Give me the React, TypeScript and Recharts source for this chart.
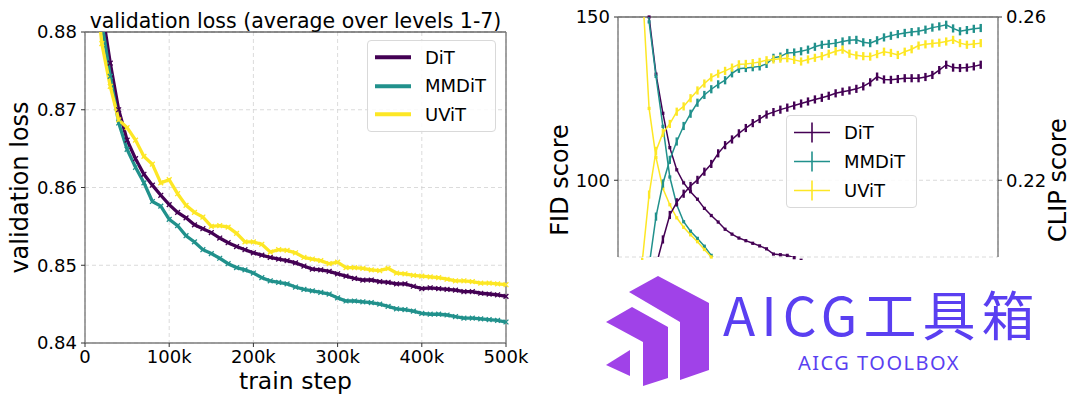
import { LineChart, Line, XAxis, YAxis, CartesianGrid, ReferenceLine, ErrorBar } from 'recharts'

const FONT = '"DejaVu Sans", sans-serif'
const GRID = '#d2d2d2'
const SPINE = '#7c7c7c'

const SERIES = ['DiT', 'MMDiT', 'UViT']
const COLORS = ['#440154', '#21918c', '#fde725']

// train steps, in thousands
const STEP_K = [
  10, 20, 30, 40, 50, 60, 70, 80, 90, 100,
  110, 120, 130, 140, 150, 160, 170, 180, 190, 200,
  210, 220, 230, 240, 250, 260, 270, 280, 290, 300,
  310, 320, 330, 340, 350, 360, 370, 380, 390, 400,
  410, 420, 430, 440, 450, 460, 470, 480, 490, 500,
]

// left panel: validation loss
const DIT_LOSS = [
  0.9, 0.883, 0.876, 0.87, 0.8661, 0.8637, 0.8617, 0.8603, 0.859, 0.8578,
  0.8568, 0.8561, 0.8552, 0.8547, 0.8542, 0.8535, 0.8529, 0.8524, 0.852, 0.8516,
  0.8513, 0.851, 0.8508, 0.8506, 0.8503, 0.8499, 0.8495, 0.8494, 0.8492, 0.8489,
  0.8486, 0.8483, 0.8481, 0.8481, 0.8479, 0.8478, 0.8476, 0.8476, 0.8473, 0.847,
  0.8471, 0.847, 0.8469, 0.8468, 0.8466, 0.8466, 0.8464, 0.8463, 0.8462, 0.846,
]
const MMDIT_LOSS = [
  0.898, 0.8812, 0.8743, 0.8683, 0.8649, 0.8626, 0.8606, 0.8582, 0.8576, 0.8559,
  0.8551, 0.8538, 0.853, 0.852, 0.8515, 0.8509, 0.8502, 0.8497, 0.8494, 0.849,
  0.8484, 0.848, 0.8478, 0.8476, 0.8472, 0.8469, 0.8467, 0.8465, 0.8463, 0.8458,
  0.8454, 0.8454, 0.8453, 0.8452, 0.845, 0.8447, 0.8444, 0.8443, 0.8441, 0.8438,
  0.8437, 0.8437, 0.8436, 0.8434, 0.8432, 0.8432, 0.8431, 0.843, 0.8429, 0.8427,
]
const UVIT_LOSS = [
  0.889, 0.8785, 0.873, 0.8687, 0.8677, 0.8661, 0.864, 0.863, 0.8606, 0.861,
  0.8592, 0.8577, 0.8568, 0.8562, 0.855, 0.8551, 0.8549, 0.8541, 0.853, 0.853,
  0.8527, 0.8517, 0.852, 0.8519, 0.8516, 0.851, 0.8508, 0.8506, 0.8502, 0.8504,
  0.8497, 0.8497, 0.8496, 0.8494, 0.8493, 0.8496, 0.849, 0.8489, 0.8487, 0.8486,
  0.8485, 0.8484, 0.8482, 0.848, 0.848, 0.8479, 0.8477, 0.8477, 0.8476, 0.8475,
]
const LOSS_X_TICKS = [0, 100000, 200000, 300000, 400000, 500000]
const LOSS_Y_TICKS = [0.84, 0.85, 0.86, 0.87, 0.88]

// right panel: FID (left axis) and CLIP (right axis); null = not plotted
const DIT_FID = [
  175, 150, 132.5, 120.5, 110, 103.2, 99.2, 96.5, 94.2, 91.4,
  89.2, 87.2, 85, 83.5, 82.3, 81.5, 80.7, 79.9, 79, 77.4,
  77.2, 77, 76.3, 75.5, null, null, null, null, null, null,
  null, null, null, null, null, null, null, null, null, null,
  null, null, null, null, null, null, null, null, null, null,
]
const MMDIT_FID = [
  185, 148.5, 131.8, 116.5, 101, 92.5, 87.3, 84.4, 82.2, 79.8,
  77, 74.5, null, null, null, null, null, null, null, null,
  null, null, null, null, null, null, null, null, null, null,
  null, null, null, null, null, null, null, null, null, null,
  null, null, null, null, null, null, null, null, null, null,
]
const UVIT_FID = [
  160, 122, 107, 97.5, 92.5, 88.5, 85.6, 83.3, 81.2, 78.8,
  76.5, 74, null, null, null, null, null, null, null, null,
  null, null, null, null, null, null, null, null, null, null,
  null, null, null, null, null, null, null, null, null, null,
  null, null, null, null, null, null, null, null, null, null,
]
const DIT_CLIP = [
  null, null, 0.199, 0.2055, 0.2115, 0.2146, 0.2167, 0.2186, 0.2201, 0.2221,
  0.224, 0.2266, 0.2286, 0.23, 0.2315, 0.2328, 0.234, 0.235, 0.2361, 0.2367,
  0.2373, 0.2378, 0.2383, 0.2388, 0.2393, 0.2398, 0.2402, 0.2407, 0.2413, 0.2417,
  0.242, 0.2424, 0.243, 0.244, 0.2454, 0.2447, 0.2446, 0.2448, 0.245, 0.245,
  0.245, 0.2453, 0.2458, 0.247, 0.2483, 0.2476, 0.2475, 0.2476, 0.2479, 0.2483,
]
const MMDIT_CLIP = [
  null, 0.199, 0.2111, 0.2192, 0.225, 0.2295, 0.2333, 0.2363, 0.239, 0.2409,
  0.2423, 0.2435, 0.2445, 0.2462, 0.2473, 0.2475, 0.2477, 0.2479, 0.2485, 0.25,
  0.2503, 0.2512, 0.2513, 0.2516, 0.252, 0.2527, 0.2532, 0.2534, 0.2536, 0.254,
  0.2543, 0.2544, 0.2538, 0.2536, 0.2543, 0.255, 0.2554, 0.2558, 0.2561, 0.2563,
  0.2565, 0.2569, 0.2574, 0.2577, 0.2581, 0.2572, 0.2565, 0.2568, 0.2571, 0.2573,
]
const UVIT_CLIP = [
  0.2, 0.2165, 0.2272, 0.2316, 0.2338, 0.2368, 0.2381, 0.2401, 0.242, 0.2437,
  0.2452, 0.2461, 0.2468, 0.2476, 0.2484, 0.2485, 0.2487, 0.249, 0.2494, 0.2496,
  0.2498, 0.2499, 0.2495, 0.2491, 0.2496, 0.25, 0.2504, 0.251, 0.2516, 0.252,
  0.251, 0.2506, 0.2504, 0.2503, 0.2509, 0.2515, 0.2512, 0.2507, 0.2515, 0.2521,
  0.253, 0.2533, 0.2535, 0.2537, 0.254, 0.2544, 0.2536, 0.2532, 0.2534, 0.2536,
]
const FID_ERR = 0.5
const CLIP_ERR = 0.001
const SCORE_X_TICKS = [0, 100000, 200000, 300000, 400000, 500000]
const FID_TICKS = [100, 150]
const CLIP_TICKS = [0.22, 0.26]

const lossData = STEP_K.map((k, i) => ({
  step: k * 1000,
  dit: DIT_LOSS[i],
  mmdit: MMDIT_LOSS[i],
  uvit: UVIT_LOSS[i],
}))

const withErr = (v: number | null, err: number) => (v == null ? null : err)

const scoreData = STEP_K.map((k, i) => ({
  step: k * 1000,
  ditFid: DIT_FID[i],
  mmditFid: MMDIT_FID[i],
  uvitFid: UVIT_FID[i],
  ditClip: DIT_CLIP[i],
  mmditClip: MMDIT_CLIP[i],
  uvitClip: UVIT_CLIP[i],
  ditFidErr: withErr(DIT_FID[i], FID_ERR),
  mmditFidErr: withErr(MMDIT_FID[i], FID_ERR),
  uvitFidErr: withErr(UVIT_FID[i], FID_ERR),
  ditClipErr: withErr(DIT_CLIP[i], CLIP_ERR),
  mmditClipErr: withErr(MMDIT_CLIP[i], CLIP_ERR),
  uvitClipErr: withErr(UVIT_CLIP[i], CLIP_ERR),
}))

const fmtK = (v: number) => (v === 0 ? '0' : `${v / 1000}k`)
const tickStyle = { fill: '#000', fontSize: 18, fontFamily: FONT }

function crossDot(color: string) {
  return (p: any) => {
    const { cx, cy, index } = p
    if (cx == null || cy == null) return <g key={`d-${index}`} />
    const s = 2.4
    return (
      <path
        key={`d-${index}`}
        d={`M${cx - s},${cy - s}L${cx + s},${cy + s}M${cx - s},${cy + s}L${cx + s},${cy - s}`}
        stroke={color}
        strokeWidth={1.3}
        fill="none"
      />
    )
  }
}

function axisTitle(text: string, x: number, y: number, rotate = false, size = 24) {
  return () => (
    <text
      x={x}
      y={y}
      textAnchor="middle"
      fontSize={size}
      fontFamily={FONT}
      fill="#000"
      transform={rotate ? `rotate(-90, ${x}, ${y})` : undefined}
    >
      {text}
    </text>
  )
}

interface LegendProps {
  left: number
  top: number
  width: number
  rowHeight: number
  errorbar?: boolean
}

function LegendBox({ left, top, width, rowHeight, errorbar }: LegendProps) {
  return (
    <div
      style={{
        position: 'absolute',
        left,
        top,
        width,
        boxSizing: 'border-box',
        padding: '2px 0',
        border: '1px solid #d9d9d9',
        borderRadius: 4,
        background: 'rgba(255,255,255,0.85)',
        fontFamily: FONT,
        fontSize: 18,
      }}
    >
      {SERIES.map((name, i) => (
        <div key={name} style={{ display: 'flex', alignItems: 'center', height: rowHeight }}>
          <svg width={36} height={rowHeight} style={{ marginLeft: 7, marginRight: 14 }}>
            {errorbar ? (
              <g stroke={COLORS[i]} strokeWidth={1.6}>
                <line x1={0} x2={36} y1={rowHeight / 2} y2={rowHeight / 2} />
                <line x1={18} x2={18} y1={rowHeight / 2 - 10} y2={rowHeight / 2 + 10} />
              </g>
            ) : (
              <line x1={0} x2={36} y1={rowHeight / 2} y2={rowHeight / 2} stroke={COLORS[i]} strokeWidth={4} />
            )}
          </svg>
          <span>{name}</span>
        </div>
      ))}
    </div>
  )
}

function LossChart() {
  const keys = ['dit', 'mmdit', 'uvit']
  return (
    <div style={{ position: 'absolute', left: 0, top: 0 }}>
      <LineChart width={540} height={396} data={lossData} margin={{ top: 32, right: 34, bottom: 0, left: 0 }}>
        <CartesianGrid stroke={GRID} strokeDasharray="4 3" strokeWidth={0.8} />
        <XAxis
          type="number"
          dataKey="step"
          domain={[0, 500000]}
          ticks={LOSS_X_TICKS}
          interval={0}
          tickFormatter={fmtK}
          height={53}
          tickSize={4}
          tickMargin={3}
          tick={tickStyle}
          axisLine={{ stroke: SPINE, strokeWidth: 1.4 }}
          tickLine={{ stroke: '#333' }}
          label={axisTitle('train step', 295.5, 389, false, 23.5)}
        />
        <YAxis
          type="number"
          domain={[0.84, 0.88]}
          ticks={LOSS_Y_TICKS}
          interval={0}
          allowDataOverflow
          width={85}
          tickFormatter={(v: number) => v.toFixed(2)}
          tickSize={4}
          tickMargin={4}
          tick={tickStyle}
          axisLine={{ stroke: SPINE, strokeWidth: 1.4 }}
          tickLine={{ stroke: '#333' }}
          label={axisTitle('validation loss', 28, 187.5, true)}
        />
        <ReferenceLine y={0.88} stroke="#222" strokeWidth={1.2} />
        <ReferenceLine x={500000} stroke={SPINE} strokeWidth={1.4} />
        {keys.map((k, i) => (
          <Line
            key={k}
            dataKey={k}
            stroke={COLORS[i]}
            strokeWidth={3.3}
            dot={crossDot(COLORS[i])}
            activeDot={false}
            isAnimationActive={false}
          />
        ))}
      </LineChart>
      <div
        style={{
          position: 'absolute',
          left: 85,
          top: 11,
          width: 421,
          textAlign: 'center',
          fontFamily: FONT,
          fontSize: 20.5,
          lineHeight: '20px',
          whiteSpace: 'nowrap',
        }}
      >
        validation loss (average over levels 1-7)
      </div>
      <LegendBox left={367} top={40} width={129} rowHeight={28.5} />
    </div>
  )
}

function ScoreChart() {
  const keys = ['dit', 'mmdit', 'uvit']
  return (
    <div style={{ position: 'absolute', left: 540, top: 0 }}>
      <LineChart width={540} height={260} data={scoreData} margin={{ top: 17, right: 0, bottom: 3, left: 0 }}>
        <CartesianGrid yAxisId="fid" stroke={GRID} strokeDasharray="4 3" strokeWidth={0.8} />
        <XAxis
          type="number"
          dataKey="step"
          domain={[-25000, 525000]}
          ticks={SCORE_X_TICKS}
          interval={0}
          allowDataOverflow
          height={0}
          tick={false}
          tickLine={false}
          axisLine={false}
        />
        <YAxis
          yAxisId="fid"
          type="number"
          domain={[76.5, 150]}
          ticks={FID_TICKS}
          interval={0}
          allowDataOverflow
          width={78}
          tickSize={4}
          tickMargin={4}
          tick={tickStyle}
          axisLine={{ stroke: SPINE, strokeWidth: 1.4 }}
          tickLine={{ stroke: '#333' }}
          label={axisTitle('FID score', 28, 180, true)}
        />
        <YAxis
          yAxisId="clip"
          orientation="right"
          type="number"
          domain={[0.2012, 0.26]}
          ticks={CLIP_TICKS}
          interval={0}
          allowDataOverflow
          width={82}
          tickFormatter={(v: number) => v.toFixed(2)}
          tickSize={4}
          tickMargin={4}
          tick={tickStyle}
          axisLine={{ stroke: SPINE, strokeWidth: 1.4 }}
          tickLine={{ stroke: '#333' }}
          label={axisTitle('CLIP score', 526, 180, true)}
        />
        <ReferenceLine yAxisId="fid" y={150} stroke="#222" strokeWidth={1.2} />
        {keys.map((k, i) => (
          <Line
            key={`${k}-fid`}
            yAxisId="fid"
            dataKey={`${k}Fid`}
            stroke={COLORS[i]}
            strokeWidth={1.5}
            dot={false}
            activeDot={false}
            isAnimationActive={false}
          >
            <ErrorBar dataKey={`${k}FidErr`} width={0} stroke={COLORS[i]} strokeWidth={3} direction="y" />
          </Line>
        ))}
        {keys.map((k, i) => (
          <Line
            key={`${k}-clip`}
            yAxisId="clip"
            dataKey={`${k}Clip`}
            stroke={COLORS[i]}
            strokeWidth={1.5}
            dot={false}
            activeDot={false}
            isAnimationActive={false}
          >
            <ErrorBar dataKey={`${k}ClipErr`} width={0} stroke={COLORS[i]} strokeWidth={2.4} direction="y" />
          </Line>
        ))}
      </LineChart>
      <LegendBox left={246} top={115} width={131} rowHeight={29} errorbar />
    </div>
  )
}

function Watermark() {
  const icon = '#a042e8'
  const ink = '#5a3ff1'
  return (
    <svg width={1080} height={396} style={{ position: 'absolute', left: 0, top: 0, pointerEvents: 'none' }}>
      <polygon points="629,292 658,276 709,303 709,370 680,380 680,322" fill={icon} />
      <polygon points="606,322 632,307 668,327 668,378 643,386 643,342" fill={icon} />
      <polygon points="606,365 630,350 630,376" fill={icon} />
      <text x={723} y={336} fontSize={53} fontFamily='"Noto Sans CJK SC", "Noto Sans", sans-serif' fill={ink} letterSpacing={6}>
        AICG工具箱
      </text>
      <text x={798} y={370} fontSize={20} fontFamily='"Noto Sans", sans-serif' fill={ink} letterSpacing={1.5}>
        AICG TOOLBOX
      </text>
    </svg>
  )
}

export default function App() {
  return (
    <div style={{ position: 'absolute', left: 0, top: 0, width: 1080, height: 396, background: '#fff', overflow: 'hidden' }}>
      <LossChart />
      <ScoreChart />
      <Watermark />
    </div>
  )
}
